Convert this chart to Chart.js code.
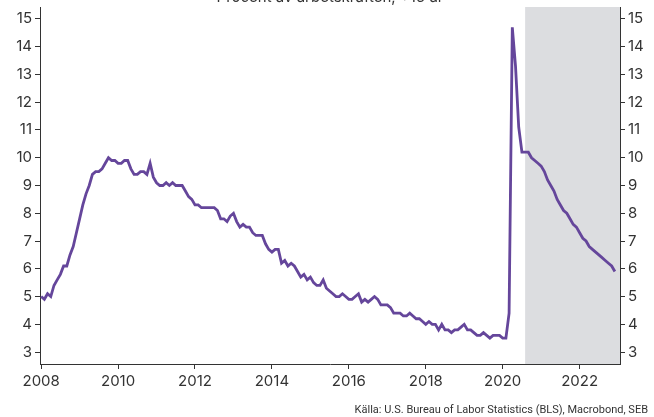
<!DOCTYPE html>
<html>
<head>
<meta charset="utf-8">
<script src="https://cdn.jsdelivr.net/npm/chart.js@4"></script>
<style>
  html, body { margin: 0; padding: 0; background: #fff; }
  #wrap { width: 654px; height: 417px; }
</style>
</head>
<body>
<div id="wrap"><canvas id="chart" width="654" height="417"></canvas></div>
<script>
// US unemployment rate, monthly from Jan 2008 (actual to Jul 2020, then SEB forecast)
const startYear = 2008;
const actual = [
  5.0, 4.9, 5.1, 5.0, 5.4, 5.6, 5.8, 6.1, 6.1, 6.5, 6.8, 7.3,
  7.8, 8.3, 8.7, 9.0, 9.4, 9.5, 9.5, 9.6, 9.8, 10.0, 9.9, 9.9,
  9.8, 9.8, 9.9, 9.9, 9.6, 9.4, 9.4, 9.5, 9.5, 9.4, 9.8, 9.3,
  9.1, 9.0, 9.0, 9.1, 9.0, 9.1, 9.0, 9.0, 9.0, 8.8, 8.6, 8.5,
  8.3, 8.3, 8.2, 8.2, 8.2, 8.2, 8.2, 8.1, 7.8, 7.8, 7.7, 7.9,
  8.0, 7.7, 7.5, 7.6, 7.5, 7.5, 7.3, 7.2, 7.2, 7.2, 6.9, 6.7,
  6.6, 6.7, 6.7, 6.2, 6.3, 6.1, 6.2, 6.1, 5.9, 5.7, 5.8, 5.6,
  5.7, 5.5, 5.4, 5.4, 5.6, 5.3, 5.2, 5.1, 5.0, 5.0, 5.1, 5.0,
  4.9, 4.9, 5.0, 5.1, 4.8, 4.9, 4.8, 4.9, 5.0, 4.9, 4.7, 4.7,
  4.7, 4.6, 4.4, 4.4, 4.4, 4.3, 4.3, 4.4, 4.3, 4.2, 4.2, 4.1,
  4.0, 4.1, 4.0, 4.0, 3.8, 4.0, 3.8, 3.8, 3.7, 3.8, 3.8, 3.9,
  4.0, 3.8, 3.8, 3.7, 3.6, 3.6, 3.7, 3.6, 3.5, 3.6, 3.6, 3.6,
  3.5, 3.5, 4.4, 14.7, 13.3, 11.1, 10.2
];
const forecast = [
  10.2, 10.2, 10.0, 9.9, 9.8,
  9.7, 9.5, 9.2, 9.0, 8.8, 8.5, 8.3, 8.1, 8.0, 7.8, 7.6, 7.5,
  7.3, 7.1, 7.0, 6.8, 6.7, 6.6, 6.5, 6.4, 6.3, 6.2, 6.1, 5.9
];
const forecastStart = 2020 + 7 / 12;
const yearTicks = [2008, 2010, 2012, 2014, 2016, 2018, 2020, 2022];
const valueTicks = [3, 4, 5, 6, 7, 8, 9, 10, 11, 12, 13, 14, 15];

const series = actual.concat(forecast).map((v, i) => ({ x: startYear + i / 12, y: v }));

const axisColor = '#333333';
const tickFont = { family: 'Inter, "Open Sans", sans-serif', size: 15 };

const shadePlugin = {
  id: 'shade',
  beforeDatasetsDraw(chart) {
    const { ctx, chartArea, scales } = chart;
    const x0 = scales.x.getPixelForValue(forecastStart);
    ctx.save();
    ctx.fillStyle = '#dcdde0';
    ctx.fillRect(x0, chartArea.top, chartArea.right - x0, chartArea.bottom - chartArea.top);
    ctx.restore();
  },
  afterDraw(chart) {
    const { ctx } = chart;
    ctx.save();
    ctx.fillStyle = '#333';
    ctx.font = '15px Inter, "Open Sans", sans-serif';
    ctx.textAlign = 'center';
    ctx.textBaseline = 'alphabetic';
    ctx.fillText('Procent av arbetskraften, +16 år', 330, 2);
    ctx.font = '11px Roboto, sans-serif';
    ctx.textAlign = 'right';
    ctx.fillText('Källa: U.S. Bureau of Labor Statistics (BLS), Macrobond, SEB', 648, 413);
    ctx.restore();
  }
};

const yAxis = (pos, width) => ({
  type: 'linear',
  position: pos,
  min: 2.57,
  max: 15.43,
  afterBuildTicks: s => { s.ticks = valueTicks.map(v => ({ value: v })); },
  afterFit: s => { s.width = width; s.paddingTop = 7; s.paddingBottom = 0; },
  grid: { drawOnChartArea: false, drawTicks: true, tickLength: 5, color: axisColor },
  border: { display: true, color: axisColor, width: 1 },
  ticks: { color: axisColor, font: tickFont, padding: 3 }
});

new Chart(document.getElementById('chart'), {
  type: 'line',
  data: {
    datasets: [{
      data: series,
      yAxisID: 'y',
      borderColor: '#65469b',
      borderWidth: 2.8,
      pointRadius: 0,
      tension: 0,
      fill: false
    }]
  },
  options: {
    responsive: false,
    animation: false,
    layout: { padding: 0 },
    plugins: { legend: { display: false }, tooltip: { enabled: false } },
    scales: {
      x: {
        type: 'linear',
        min: 2007.97,
        max: 2023.05,
        afterBuildTicks: s => { s.ticks = yearTicks.map(v => ({ value: v })); },
        afterFit: s => { s.height = 53; },
        grid: { drawOnChartArea: false, drawTicks: true, tickLength: 5, color: axisColor },
        border: { display: true, color: axisColor, width: 1 },
        ticks: { color: axisColor, font: tickFont, maxRotation: 0, padding: 3, callback: v => String(v) }
      },
      y: yAxis('left', 40),
      y2: yAxis('right', 34)
    }
  },
  plugins: [shadePlugin]
});
</script>
</body>
</html>
